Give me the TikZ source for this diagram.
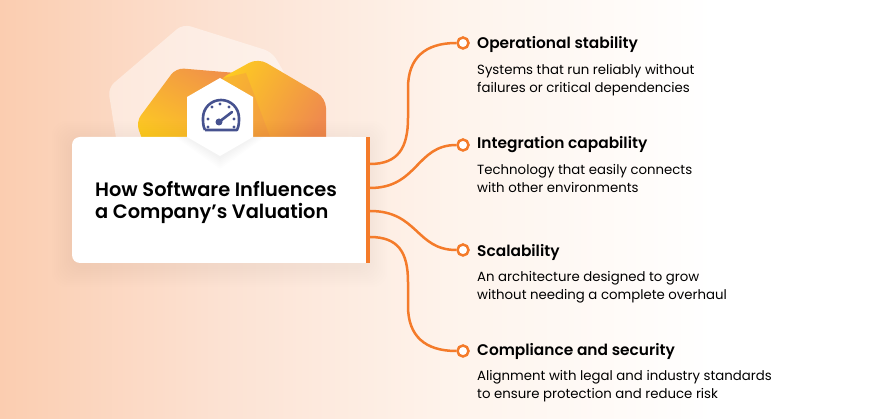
\documentclass[tikz,border=0pt]{standalone}
\usepackage{fontspec}
\setmainfont[BoldFont={Poppins SemiBold}]{Poppins}
\usetikzlibrary{calc}

\definecolor{linkorange}{HTML}{F47B2A}
\definecolor{gaugeblue}{HTML}{46528F}
\definecolor{peach}{HTML}{FBCDB0}
\definecolor{peachmid}{HTML}{FCE2D3}
\definecolor{peachlight}{HTML}{FEF3EB}
\definecolor{hexyellow}{HTML}{FDC923}
\definecolor{hexorange}{HTML}{EF8A4E}

\pgfdeclarehorizontalshading{pagefade}{100bp}{
  color(0bp)=(peach); color(25bp)=(peach); color(37.5bp)=(peachmid); color(50bp)=(peachlight); color(65bp)=(white); color(100bp)=(white)}

\tikzset{
  link/.style={draw=linkorange, line width=2.5pt},
  dot/.style={circle, draw=linkorange, fill=white, line width=2.5pt, minimum size=11pt, inner sep=0pt},
  head/.style={anchor=west, inner sep=0pt, font=\fontsize{15.4}{18}\selectfont\bfseries},
  body/.style={anchor=north west, inner sep=0pt, align=left, font=\fontsize{13.3}{18}\selectfont},
  gauge/.style={draw=gaugeblue, line width=2.6pt}
}

\begin{document}
\begin{tikzpicture}[x=1pt,y=-1pt]
  \useasboundingbox (0,0) rectangle (892,419);
  \shade[shading=pagefade] (0,0) rectangle (892,419);

  % shapes behind the card
  \fill[white, opacity=0.45, rounded corners=8pt] (183,24) -- (108,88) -- (118,150) -- (330,150) -- (272,52) -- cycle;
  \shade[top color=hexorange, bottom color=hexyellow, shading angle=-30, rounded corners=8pt]
    (176,68) -- (136,122) -- (146,150) -- (275,150) -- (248,74) -- cycle;
  \shade[left color=hexyellow, right color=hexorange, shading angle=60, rounded corners=10pt]
    (258,58) -- (218,80) -- (218,150) -- (326,150) -- (326,98) -- cycle;
  \fill[hexorange, opacity=0.3] (219,79) -- (246,73) -- (275,150) -- (219,150) -- cycle;

  % card with soft shadow
  \foreach \s in {2,4,...,20}
    \fill[black, opacity=0.005, rounded corners=14pt] (72-\s,137-\s+4) rectangle (367+\s,263+\s+4);
  \fill[white, rounded corners=8pt] (72,137) rectangle (360,263);
  \fill[white] (340,137) rectangle (367,263);
  \foreach \s in {2,4,...,12}
    \fill[black, opacity=0.008] (187-\s,137) -- (220,157+\s) -- (253+\s,137) -- cycle;
  \fill[white] (220,78) -- (253,97) -- (253,137) -- (220,156) -- (187,137) -- (187,97) -- cycle;

  % gauge icon
  \draw[gauge, line join=round] (205,130) -- (237,130) .. controls (239,126) and (239,122) .. (239,118)
    arc[start angle=0, end angle=180, radius=18pt] .. controls (203,122) and (203,126) .. (205,130);
  \foreach \a/\b in {208/119,208/127,234/127,234/119,212/107,220/104,229/107}
    \fill[gaugeblue] (\a,\b) circle (1.6pt);
  \fill[gaugeblue] (219,122) circle (3.5pt);
  \draw[gaugeblue, line width=2.6pt, line cap=round] (219,122) -- (232,112);

  % title
  \node[anchor=west, inner sep=0pt, align=left, font=\fontsize{19.4}{22}\selectfont\bfseries] (title) at (95,202)
    {How Software Influences\\a Company’s Valuation};

  % bar and branch points
  \fill[linkorange] (366,137) rectangle (370,263);
  \coordinate (b1) at (370,164);
  \coordinate (b2) at (370,188);
  \coordinate (b3) at (370,211);
  \coordinate (b4) at (370,237);

  \node[dot] (d1) at (463,43) {};
  \node[dot] (d2) at (463,145) {};
  \node[dot] (d3) at (463,250) {};
  \node[dot] (d4) at (463,351) {};

  \draw[link] (b1) .. controls (398,164) and (408,148) .. (408,118) -- (408,88) .. controls (408,58) and (425,43) .. (d1);
  \draw[link] (b2) .. controls (418,188) and (416,145) .. (d2);
  \draw[link] (b3) .. controls (418,211) and (416,250) .. (d3);
  \draw[link] (b4) .. controls (398,237) and (408,252) .. (408,282) -- (408,306) .. controls (408,336) and (425,351) .. (d4);

  % labels
  \node[head] (h1) at (477,45) {Operational stability};
  \node[body] (t1) at (477,64) {Systems that run reliably without\\failures or critical dependencies};
  \node[head] (h2) at (477,145) {Integration capability};
  \node[body] (t2) at (477,164) {Technology that easily connects\\with other environments};
  \node[head] (h3) at (477,252) {Scalability};
  \node[body] (t3) at (477,271) {An architecture designed to grow\\without needing a complete overhaul};
  \node[head] (h4) at (477,351) {Compliance and security};
  \node[body] (t4) at (477,370) {Alignment with legal and industry standards\\to ensure protection and reduce risk};
\end{tikzpicture}
\end{document}
